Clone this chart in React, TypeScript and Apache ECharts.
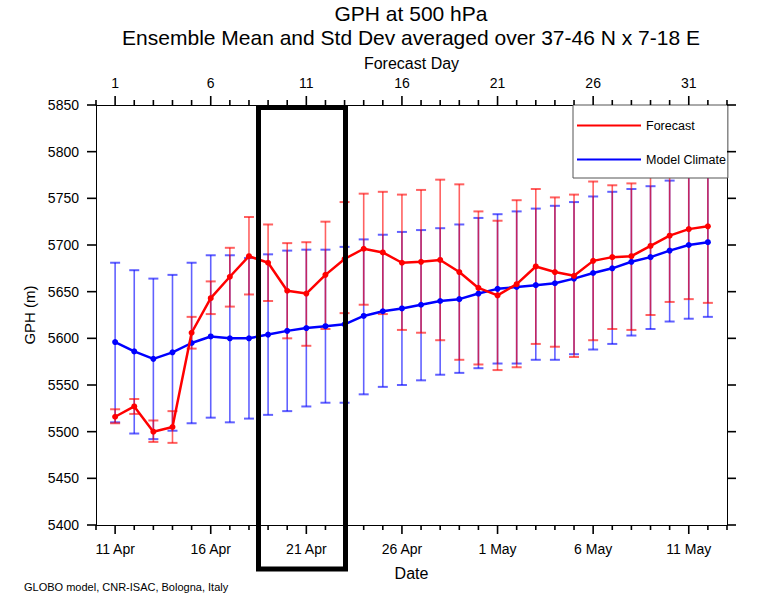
import React, { useEffect, useRef } from 'react';
import * as echarts from 'echarts';

// Forecast day (also index into the category axes, 0..33)
const axisDays = ['0','1','2','3','4','5','6','7','8','9','10','11','12','13','14','15','16','17','18','19','20','21','22','23','24','25','26','27','28','29','30','31','32','33'];
const days = [1,2,3,4,5,6,7,8,9,10,11,12,13,14,15,16,17,18,19,20,21,22,23,24,25,26,27,28,29,30,31,32];
const tickDays = [1, 6, 11, 16, 21, 26, 31];
const dateTickLabels = ['11 Apr', '16 Apr', '21 Apr', '26 Apr', '1 May', '6 May', '11 May'];

// Forecast ensemble mean and mean +/- std dev
const fcMean = [5516,5527,5500,5505,5606,5643,5666,5688,5681,5651,5648,5668,5685,5696,5692,5681,5682,5684,5671,5654,5646,5658,5677,5671,5667,5683,5687,5688,5699,5710,5717,5720];
const fcHigh = [5524,5535,5512,5522,5623,5661,5697,5730,5722,5702,5703,5725,5746,5755,5757,5754,5759,5770,5765,5736,5726,5748,5760,5751,5754,5768,5764,5766,5773,5781,5792,5802];
const fcLow = [5509,5519,5489,5488,5589,5626,5634,5647,5640,5600,5592,5610,5627,5636,5626,5609,5606,5598,5577,5572,5566,5569,5594,5591,5580,5598,5610,5609,5625,5639,5642,5638];

// Model climate mean and mean +/- std dev
const clMean = [5596,5586,5578,5585,5595,5602,5600,5600,5604,5608,5611,5613,5615,5624,5629,5632,5636,5640,5642,5648,5653,5655,5657,5659,5664,5670,5675,5682,5687,5694,5700,5703];
const clHigh = [5681,5673,5664,5668,5681,5689,5689,5686,5690,5694,5695,5695,5698,5706,5711,5714,5716,5718,5722,5729,5733,5736,5739,5742,5746,5752,5757,5760,5763,5769,5778,5782];
const clLow = [5510,5498,5492,5501,5509,5515,5510,5514,5518,5522,5527,5531,5531,5540,5548,5550,5555,5561,5563,5568,5573,5573,5577,5577,5583,5588,5594,5603,5610,5618,5621,5623];

// Y axis tick values
const yTickValues = [5400, 5450, 5500, 5550, 5600, 5650, 5700, 5750, 5800, 5850];
const Y_MIN = 5400;
const Y_MAX = 5850;
const Y_STEP = 50;

const RED = '#ff0000';
const BLUE = '#0000ff';
const FONT = '"Liberation Sans", Arial, Helvetica, sans-serif';

const GRID = { left: 96, right: 33, top: 105, bottom: 75 };
const W = 760;
const H = 600;

function errorBarRenderer(color: string) {
  return (params: any, api: any) => {
    const x = api.value(0);
    const lo = api.coord([x, api.value(1)]);
    const hi = api.coord([x, api.value(2)]);
    const hw = 5;
    return {
      type: 'group',
      children: [
        { type: 'line', shape: { x1: lo[0], y1: lo[1], x2: hi[0], y2: hi[1] }, style: { stroke: color, lineWidth: 1.6 } },
        { type: 'line', shape: { x1: lo[0] - hw, y1: lo[1], x2: lo[0] + hw, y2: lo[1] }, style: { stroke: color, lineWidth: 2 } },
        { type: 'line', shape: { x1: hi[0] - hw, y1: hi[1], x2: hi[0] + hw, y2: hi[1] }, style: { stroke: color, lineWidth: 2 } },
      ],
    };
  };
}

export default function App() {
  const ref = useRef<HTMLDivElement>(null);
  useEffect(() => {
    if (!ref.current) return;
    const chart = echarts.init(ref.current, null, { renderer: 'svg' });
    const isMajor = (i: number) => tickDays.indexOf(i) >= 0;
    const lastIdx = axisDays.length - 1;
    const baseX = {
      type: 'category' as const,
      data: axisDays,
      boundaryGap: false,
      splitLine: { show: false },
      axisTick: { show: false },
      axisLine: { show: true, lineStyle: { color: '#000', width: 1 } },
    };
    const option: any = {
      animation: false,
      textStyle: { fontFamily: FONT, color: '#000' },
      grid: { ...GRID, containLabel: false },
      legend: {
        data: ['Forecast', 'Model Climate'],
        orient: 'vertical',
        left: 573,
        top: 105,
        padding: [14, 2, 12, 4],
        itemGap: 21,
        itemWidth: 64,
        itemHeight: 2,
        icon: 'rect',
        backgroundColor: '#fff',
        borderColor: '#555',
        borderWidth: 1,
        textStyle: { fontSize: 12.5, color: '#000', fontFamily: FONT },
        selectedMode: false,
        z: 20,
      },
      xAxis: [
        {
          ...baseX,
          position: 'bottom',
          name: 'Date',
          nameLocation: 'middle',
          nameGap: 40,
          nameTextStyle: { fontSize: 16, color: '#000' },
          axisLabel: {
            show: true,
            interval: (i: number) => isMajor(i),
            formatter: (_v: string, i: number) => (isMajor(i) ? dateTickLabels[tickDays.indexOf(i)] : ''),
            fontSize: 14,
            margin: 17,
            color: '#000',
          },
        },
        {
          ...baseX,
          position: 'top',
          name: 'Forecast Day',
          nameLocation: 'middle',
          nameGap: 27,
          nameTextStyle: { fontSize: 16, color: '#000' },
          axisLabel: {
            show: true,
            interval: (i: number) => isMajor(i),
            formatter: (v: string, i: number) => (isMajor(i) ? v : ''),
            fontSize: 14,
            margin: 15,
            color: '#000',
          },
        },
      ],
      yAxis: [
        {
          type: 'value',
          position: 'left',
          min: Y_MIN,
          max: Y_MAX,
          interval: Y_STEP,
          name: 'GPH (m)',
          nameLocation: 'middle',
          nameGap: 55,
          nameTextStyle: { fontSize: 15, color: '#000' },
          axisLine: { show: true, lineStyle: { color: '#000', width: 1 } },
          axisTick: { show: false },
          axisLabel: { fontSize: 14, margin: 17, color: '#000', formatter: (v: number) => String(v) },
          splitLine: { show: false },
        },
        {
          type: 'value',
          position: 'right',
          min: Y_MIN,
          max: Y_MAX,
          interval: Y_STEP,
          axisLine: { show: true, lineStyle: { color: '#000', width: 1 } },
          axisTick: { show: false },
          axisLabel: { show: false },
          splitLine: { show: false },
        },
      ],
      series: [
        {
          name: 'Model Climate bars',
          type: 'custom',
          xAxisIndex: 0,
          yAxisIndex: 0,
          renderItem: errorBarRenderer('rgba(0,0,255,0.62)'),
          encode: { x: 0, y: [1, 2] },
          data: days.map((d, i) => [d, clLow[i], clHigh[i]]),
          z: 2,
        },
        {
          name: 'Forecast bars',
          type: 'custom',
          xAxisIndex: 0,
          yAxisIndex: 0,
          renderItem: errorBarRenderer('rgba(255,0,0,0.62)'),
          encode: { x: 0, y: [1, 2] },
          data: days.map((d, i) => [d, fcLow[i], fcHigh[i]]),
          z: 2,
        },
        {
          name: 'Model Climate',
          type: 'line',
          xAxisIndex: 0,
          yAxisIndex: 0,
          data: days.map((d, i) => [d, clMean[i]]),
          symbol: 'circle',
          symbolSize: 6,
          itemStyle: { color: BLUE },
          lineStyle: { color: BLUE, width: 2.5 },
          z: 3,
        },
        {
          name: 'Forecast',
          type: 'line',
          xAxisIndex: 0,
          yAxisIndex: 0,
          data: days.map((d, i) => [d, fcMean[i]]),
          symbol: 'circle',
          symbolSize: 6,
          itemStyle: { color: RED },
          lineStyle: { color: RED, width: 2.5 },
          z: 4,
        },
      ],
    };
    chart.setOption(option);

    // Axis tick marks as thin filled rects; positions from the chart's layout
    const gx0 = GRID.left;
    const gx1 = W - GRID.right;
    const gy0 = GRID.top;
    const gy1 = H - GRID.bottom;
    const pxX = (i: number) => {
      let p: any = null;
      try { p = chart.convertToPixel({ xAxisIndex: 0 }, i); } catch (e) { p = null; }
      const n = Array.isArray(p) ? p[0] : p;
      return typeof n === 'number' && isFinite(n) && n > 0 && n < W ? n : gx0 + ((gx1 - gx0) * i) / lastIdx;
    };
    const pxY = (v: number) => {
      let p: any = null;
      try { p = chart.convertToPixel({ yAxisIndex: 0 }, v); } catch (e) { p = null; }
      const n = Array.isArray(p) ? p[1] : p;
      return typeof n === 'number' && isFinite(n) && n > 0 && n < H ? n : gy1 - ((gy1 - gy0) * (v - Y_MIN)) / (Y_MAX - Y_MIN);
    };
    const TW = 1.6;
    const tickEls: any[] = [];
    axisDays.forEach((_d, i) => {
      const len = isMajor(i) ? 9 : 5;
      const x = pxX(i) - TW / 2;
      tickEls.push({ type: 'rect', z: 60, shape: { x, y: gy1, width: TW, height: len }, style: { fill: '#000' } });
      tickEls.push({ type: 'rect', z: 60, shape: { x, y: gy0 - len, width: TW, height: len }, style: { fill: '#000' } });
    });
    yTickValues.forEach((v) => {
      const y = pxY(v) - TW / 2;
      tickEls.push({ type: 'rect', z: 60, shape: { x: gx0 - 9, y, width: 9, height: TW }, style: { fill: '#000' } });
      tickEls.push({ type: 'rect', z: 60, shape: { x: gx1, y, width: 9, height: TW }, style: { fill: '#000' } });
    });

    chart.setOption({
      graphic: [
        {
          type: 'text',
          x: 411,
          y: 13,
          z: 50,
          style: { text: 'GPH at 500 hPa', fontSize: 21, fontFamily: FONT, fill: '#000', align: 'center', verticalAlign: 'middle' },
        },
        {
          type: 'text',
          x: 411,
          y: 37,
          z: 50,
          style: { text: 'Ensemble Mean and Std Dev averaged over 37-46 N x 7-18 E', fontSize: 21, fontFamily: FONT, fill: '#000', align: 'center', verticalAlign: 'middle' },
        },
        {
          type: 'text',
          x: 24,
          y: 587,
          z: 50,
          style: { text: 'GLOBO model, CNR-ISAC, Bologna, Italy', fontSize: 11, fontFamily: FONT, fill: '#000', align: 'left', verticalAlign: 'middle' },
        },
        {
          type: 'rect',
          z: 100,
          shape: { x: 258.5, y: 107.5, width: 87, height: 461.5 },
          style: { fill: 'none', stroke: '#000', lineWidth: 5 },
        },
        ...tickEls,
      ],
    });
    return () => chart.dispose();
  }, []);
  return (
    <div
      ref={ref}
      style={{ position: 'absolute', left: 0, top: 0, width: W, height: H, background: '#fff' }}
    />
  );
}
